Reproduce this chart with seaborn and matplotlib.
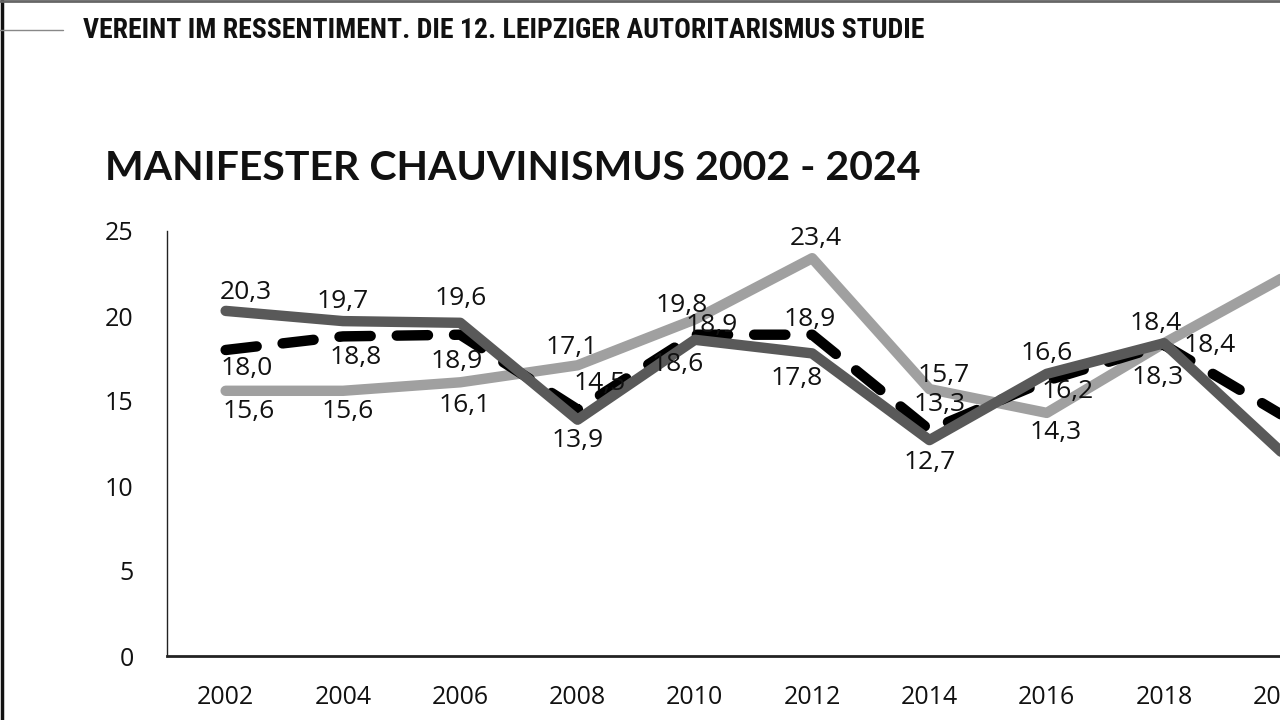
import matplotlib
matplotlib.use("Agg")
import matplotlib.pyplot as plt
import matplotlib.lines as mlines
import seaborn as sns
import pandas as pd

years = ["2002", "2004", "2006", "2008", "2010", "2012", "2014", "2016", "2018", "2020"]
gesamt = [18.0, 18.8, 18.9, 14.5, 18.9, 18.9, 13.3, 16.2, 18.3, 14.2]
west = [15.6, 15.6, 16.1, 17.1, 19.8, 23.4, 15.7, 14.3, 18.4, 22.2]
ost = [20.3, 19.7, 19.6, 13.9, 18.6, 17.8, 12.7, 16.6, 18.4, 12.0]
labelled = 9  # values labelled (2020 is cut off at the right edge)

series_names = ["West", "Gesamt", "Ost"]
series_values = [west, gesamt, ost]

# label offsets (pixels) per series
off_west = [(23, 21), (5, 21), (4, 23), (-6, -18), (-13, -14), (4, -20), (14, -14), (9, 20), (46, 2)]
off_gesamt = [(21, 18), (13, 21), (-4, 27), (22, -26), (17, -9), (-2, -15), (10, -25), (21, 11), (-6, 33)]
off_ost = [(20, -18), (0, -20), (0, -24), (0, 21), (-17, 25), (-15, 25), (0, 22), (0, -20), (-8, -20)]
offsets = {"West": off_west, "Gesamt": off_gesamt, "Ost": off_ost}

rows = []
for name, vals in zip(series_names, series_values):
    for i, v in enumerate(vals):
        rows.append({"pos": i, "Jahr": years[i], "Wert": v, "Gruppe": name})
df = pd.DataFrame(rows)

sns.set_style("white")
plt.rcParams["font.family"] = ["Open Sans", "DejaVu Sans"]
plt.rcParams["lines.dash_capstyle"] = "round"
plt.rcParams["lines.solid_capstyle"] = "round"
plt.rcParams["lines.solid_joinstyle"] = "round"
plt.rcParams["lines.dash_joinstyle"] = "round"

W, H = 1280, 720
fig = plt.figure(figsize=(12.8, 7.2), dpi=100)
fig.patch.set_facecolor("white")

step = 117.3
left_px, bottom_px, top_px = 167, 656, 231
ax = fig.add_axes([left_px / W, (H - bottom_px) / H, len(years) * step / W, (bottom_px - top_px) / H])

palette = {"West": "#a0a0a0", "Gesamt": "#000000", "Ost": "#595959"}
dashes = {"West": "", "Gesamt": (3.0, 2.5), "Ost": ""}
sns.lineplot(data=df, x="pos", y="Wert", hue="Gruppe", style="Gruppe",
             hue_order=series_names, style_order=series_names,
             palette=palette, dashes=dashes, linewidth=7.5, legend=False, ax=ax,
             sort=False)

for name, vals in zip(series_names, series_values):
    for i in range(labelled):
        dx, dy = offsets[name][i]
        ax.annotate(f"{vals[i]:.1f}".replace(".", ","), (i, vals[i]),
                    xytext=(dx, -dy), textcoords="offset pixels",
                    ha="center", va="center", fontsize=19, color="#111111",
                    zorder=10)

ax.set_xlim(-0.5, len(years) - 0.5)
ax.set_ylim(0, 25)
ax.set_yticks([0, 5, 10, 15, 20, 25])
ax.set_yticklabels(["0", "5", "10", "15", "20", "25"])
ax.set_xticks([i - 0.5 for i in range(len(years) + 1)])
ax.set_xticklabels([])
ax.set_xticks(list(range(len(years))), minor=True)
ax.set_xticklabels(years, minor=True)
ax.tick_params(axis="x", which="major", direction="out", length=10, width=1.2, color="#222222")
ax.tick_params(axis="x", which="minor", length=0, pad=21, labelsize=18, labelcolor="#111111")
ax.tick_params(axis="y", direction="out", length=10, width=1, color="#222222",
               pad=14, labelsize=18, labelcolor="#111111")
ax.set_xlabel("")
ax.set_ylabel("")
for s in ["top", "right"]:
    ax.spines[s].set_visible(False)
ax.spines["left"].set_color("#222222")
ax.spines["left"].set_linewidth(1)
ax.spines["bottom"].set_color("#222222")
ax.spines["bottom"].set_linewidth(2)
ax.set_facecolor("none")

fig.text(105 / W, 1 - 168 / H, "MANIFESTER CHAUVINISMUS 2002 - 2024",
         fontsize=29.5, fontweight="bold", ha="left", va="center", color="#111111",
         family=["Lato", "DejaVu Sans"])
fig.text(83 / W, 1 - 30 / H, "VEREINT IM RESSENTIMENT. DIE 12. LEIPZIGER AUTORITARISMUS STUDIE",
         fontsize=20, fontweight="bold", ha="left", va="center", color="#111111",
         family=["Liberation Sans Narrow", "DejaVu Sans Condensed", "Roboto Condensed",
                 "Roboto", "DejaVu Sans"])

# slide frame
fig.add_artist(mlines.Line2D([2 / W, 2 / W], [0, 1], color="#111111", linewidth=2.5))
fig.add_artist(mlines.Line2D([0, 1], [1 - 1 / H, 1 - 1 / H], color="#666666", linewidth=2))
fig.add_artist(mlines.Line2D([0, 63 / W], [1 - 30 / H, 1 - 30 / H], color="#888888", linewidth=1))

fig.savefig("out.png", dpi=100)
